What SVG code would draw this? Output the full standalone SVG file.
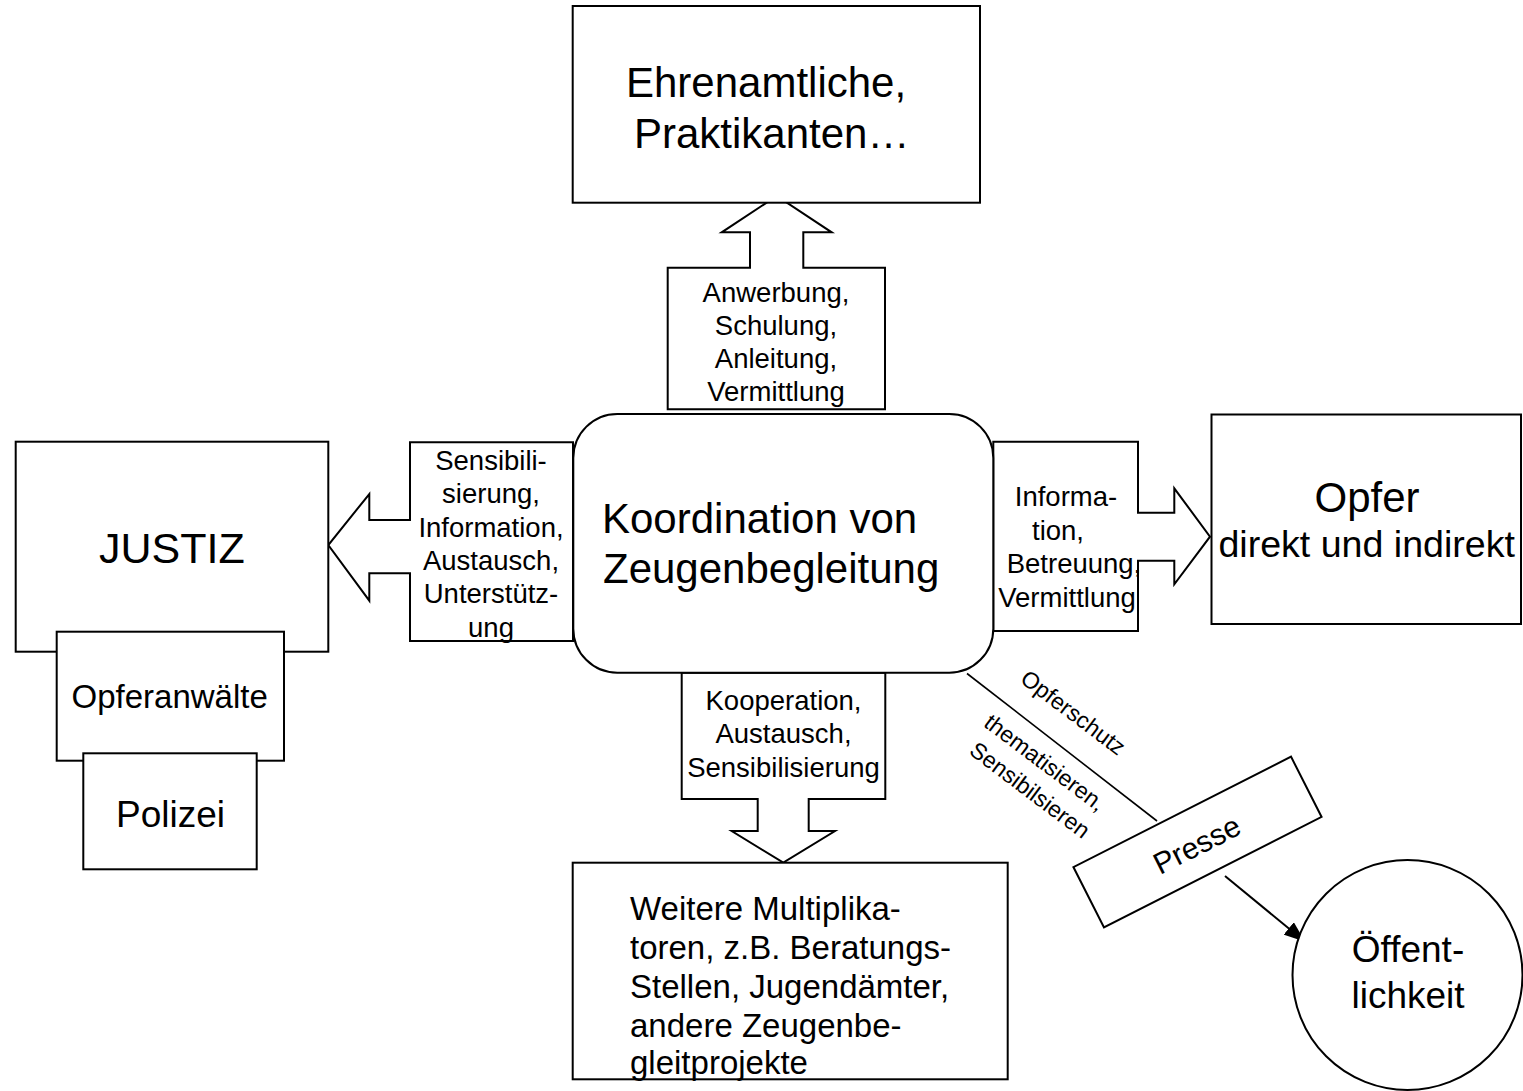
<svg xmlns="http://www.w3.org/2000/svg" width="1523" height="1091" viewBox="0 0 1523 1091">
<style>
  .box { fill: #fff; stroke: #000; stroke-width: 2; }
  .ln { fill: none; stroke: #000; stroke-width: 1.6; }
  text { font-family: "Liberation Sans", Arial, sans-serif; fill: #000; }
  .c { text-anchor: middle; }
  .lbl { font-size: 27.5px; text-anchor: middle; }
  .rot { font-size: 23px; text-anchor: middle; }
</style>
<defs>
  <marker id="ah" markerUnits="userSpaceOnUse" markerWidth="22" markerHeight="16" refX="21" refY="8" orient="auto">
    <path d="M0,0 L21,8 L0,16 z" fill="#000"/>
  </marker>
</defs>
<rect width="1523" height="1091" fill="#fff"/>

<g id="connectors">
  <g id="arrow-up">
    <path class="box" d="M667.7,267.7 L750,267.7 L750,232.3 L721.7,232.3 L776.7,196 L831.7,232.3 L803.3,232.3 L803.3,267.7 L885,267.7 L885,409.3 L667.7,409.3 Z"/>
    <text class="lbl" x="776" y="301.7">Anwerbung,</text>
    <text class="lbl" x="776" y="335">Schulung,</text>
    <text class="lbl" x="776" y="368.3">Anleitung,</text>
    <text class="lbl" x="776" y="401">Vermittlung</text>
  </g>
  <g id="arrow-left">
    <path class="box" d="M410,442.3 L573,442.3 L573,641 L410,641 L410,573.3 L369.3,573.3 L369.3,600.7 L328.3,545 L369.3,494 L369.3,520 L410,520 Z"/>
    <text class="lbl" x="491" y="470">Sensibili-</text>
    <text class="lbl" x="491" y="503.3">sierung,</text>
    <text class="lbl" x="491" y="536.7">Information,</text>
    <text class="lbl" x="491" y="570">Austausch,</text>
    <text class="lbl" x="491" y="603.3">Unterstütz-</text>
    <text class="lbl" x="491" y="636.7">ung</text>
  </g>
  <g id="arrow-right">
    <path class="box" d="M993.3,441.7 L1138,441.7 L1138,512.7 L1174.3,512.7 L1174.3,488.3 L1210,536.7 L1174.3,584.3 L1174.3,560.7 L1138,560.7 L1138,631 L993.3,631 Z"/>
    <text class="lbl" x="1066" y="506">Informa-</text>
    <text class="lbl" x="1058" y="539.5">tion,</text>
    <text class="lbl" x="1074" y="573">Betreuung,</text>
    <text class="lbl" x="1067" y="606.5">Vermittlung</text>
  </g>
  <g id="arrow-down">
    <path class="box" d="M681.7,672.7 L885.3,672.7 L885.3,799 L808.7,799 L808.7,831 L835,831 L783.3,862.7 L731.7,831 L757.7,831 L757.7,799 L681.7,799 Z"/>
    <text class="lbl" x="783.5" y="710">Kooperation,</text>
    <text class="lbl" x="783.5" y="743.3">Austausch,</text>
    <text class="lbl" x="783.5" y="776.7">Sensibilisierung</text>
  </g>
  <g id="line-presse">
    <line class="ln" x1="967" y1="673.5" x2="1157" y2="821"/>
    <text class="rot" transform="translate(1073.3,712.5) rotate(37)" y="8">Opferschutz</text>
    <text class="rot" transform="translate(1045,762.5) rotate(37)" y="8">thematisieren,</text>
    <text class="rot" transform="translate(1030,790) rotate(37)" y="8">Sensibilsieren</text>
  </g>
  <line id="presse-oeff" x1="1225" y1="876" x2="1305" y2="941.7" stroke="#000" stroke-width="2" marker-end="url(#ah)"/>
</g>

<g id="ehrenamtliche">
  <rect class="box" x="572.7" y="6" width="407.3" height="196.7"/>
  <text x="626" y="96.7" font-size="42">Ehrenamtliche,</text>
  <text x="634" y="148.3" font-size="42">Praktikanten…</text>
</g>

<g id="koordination">
  <rect class="box" x="573.3" y="414" width="420" height="258.7" rx="44" ry="44"/>
  <text x="602" y="532.7" font-size="42">Koordination von</text>
  <text x="603" y="583.3" font-size="42">Zeugenbegleitung</text>
</g>

<g id="justiz">
  <rect class="box" x="15.7" y="441.7" width="312.6" height="210"/>
  <text class="c" x="171.8" y="563.3" font-size="43">JUSTIZ</text>
</g>
<g id="opferanwaelte">
  <rect class="box" x="56.7" y="631.7" width="227.3" height="129"/>
  <text class="c" x="169.7" y="708.3" font-size="33">Opferanwälte</text>
</g>
<g id="polizei">
  <rect class="box" x="83.3" y="753.3" width="173.4" height="116"/>
  <text class="c" x="170.5" y="826.7" font-size="37">Polizei</text>
</g>

<g id="opfer">
  <rect class="box" x="1211.5" y="414.5" width="309.5" height="209.5"/>
  <text class="c" x="1367" y="511.7" font-size="42">Opfer</text>
  <text class="c" x="1366.7" y="556.7" font-size="37.6">direkt und indirekt</text>
</g>

<g id="multiplikatoren">
  <rect class="box" x="572.7" y="862.7" width="435" height="216.6"/>
  <text x="630" y="920" font-size="33">Weitere Multiplika-</text>
  <text x="630" y="959.3" font-size="33">toren, z.B. Beratungs-</text>
  <text x="630" y="998" font-size="33">Stellen, Jugendämter,</text>
  <text x="630" y="1036.7" font-size="33">andere Zeugenbe-</text>
  <text x="630" y="1074" font-size="33">gleitprojekte</text>
</g>

<g id="presse">
  <rect class="box" x="-122" y="-33.75" width="244" height="67.5" transform="translate(1197.5,842) rotate(-26.9)"/>
  <text class="c" transform="translate(1197,845) rotate(-26.9)" y="10" font-size="30">Presse</text>
</g>

<g id="oeffentlichkeit">
  <circle class="box" cx="1407.5" cy="975" r="115"/>
  <text class="c" x="1408" y="961.7" font-size="37">Öffent-</text>
  <text class="c" x="1408" y="1007.7" font-size="37">lichkeit</text>
</g>
</svg>
